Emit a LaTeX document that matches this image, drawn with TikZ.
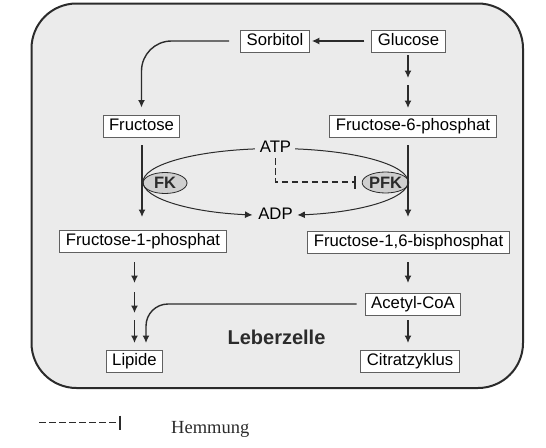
\documentclass[tikz,border=0pt]{standalone}
\usepackage{fontspec}
\setmainfont{Liberation Sans}
\newfontfamily\legendfont{Liberation Serif}
\usetikzlibrary{arrows.meta,calc,shapes.geometric}
\definecolor{cellbg}{HTML}{EBEBEB}
\definecolor{ink}{HTML}{2B2B2B}
\definecolor{boxline}{HTML}{606060}
\definecolor{enzfill}{HTML}{CFCFCF}
\begin{document}
\begin{tikzpicture}[x=1pt,y=-1pt,
  mol/.style={draw=boxline, line width=1pt, fill=white, font=\fontsize{16.7}{19}\selectfont, text height=12pt, text depth=3.5pt, inner xsep=6pt, inner ysep=3.25pt},
  lbl/.style={font=\fontsize{16.7}{19}\selectfont, inner sep=0pt, text height=12pt, text depth=3.5pt},
  enz/.style={ellipse, draw=ink, line width=0.8pt, fill=enzfill, minimum width=44pt, minimum height=21pt, inner sep=0pt, font=\bfseries\fontsize{16.5}{19}\selectfont, text=ink},
  tip/.style={-{Latex[length=7.5pt,width=7pt]}},
  arr/.style={draw=ink, line width=1.4pt, tip},
  ring/.style={draw=ink, line width=1pt},
  inh/.style={draw=ink, line width=1.2pt, dash pattern=on 6.5pt off 3.5pt},
  barline/.style={draw=ink, line width=1.2pt},
]
\useasboundingbox (0,0) rectangle (546,447);
\draw[draw=ink, line width=2pt, fill=cellbg, rounded corners=45pt] (31.5,3.5) rectangle (523,388);

\node[mol] (sorb) at (275,41) {Sorbitol};
\node[mol] (gluc) at (408.5,41) {Glucose};
\node[mol] (fru) at (141.5,126) {Fructose};
\node[mol] (f6p) at (413,126) {Fructose-6-phosphat};
\node[lbl] (atp) at (275.5,148.5) {ATP};
\node[lbl] (adp) at (275.5,215) {ADP};
\node[enz] (fk) at (165,183) {FK};
\node[enz] (pfk) at (385.5,182.5) {PFK};
\node[mol] (f1p) at (143,241) {Fructose-1-phosphat};
\node[mol] (f16) at (408.5,242) {Fructose-1,6-bisphosphat};
\node[mol] (acoa) at (413,304) {Acetyl-CoA};
\node[mol] (lip) at (134.5,361.5) {Lipide};
\node[mol] (cit) at (410,361) {Citratzyklus};
\node[font=\bfseries\fontsize{20}{24}\selectfont, text=ink] (leber) at (276.5,337) {Leberzelle};

% ATP/ADP ring
\coordinate (E) at (275.5,182);
\draw[ring] ($(E)+(99:132.5pt and 33.5pt)$) arc[start angle=99,end angle=180,x radius=132.5pt,y radius=33.5pt];
\draw[ring] ($(E)+(81.5:132.5pt and 33.5pt)$) arc[start angle=81.5,end angle=0,x radius=132.5pt,y radius=33.5pt];
\draw[ring, tip] ($(E)+(180:132.5pt and 33.5pt)$) arc[start angle=180,end angle=260,x radius=132.5pt,y radius=33.5pt];
\draw[ring, tip] ($(E)+(0:132.5pt and 33.5pt)$) arc[start angle=0,end angle=-80.5,x radius=132.5pt,y radius=33.5pt];

% inhibition
\coordinate (inhend) at (355,182);
\draw[inh] ([yshift=-2pt]atp.south) |- (inhend);
\draw[barline] ([yshift=6.5pt]inhend) -- ([yshift=-6.5pt]inhend);

% main arrows
\draw[arr] ([xshift=-7pt]gluc.west) -- ([xshift=2pt]sorb.east);
\draw[arr, rounded corners=30pt] ([xshift=-11pt]sorb.west) -| ([yshift=7pt]fru.north);
\coordinate (g1) at (408,55); \coordinate (g2) at (408,78);
\coordinate (g3) at (408,85); \coordinate (g4) at (408,108);
\draw[arr] (g1) -- (g2);
\draw[arr] (g3) -- (g4);
\coordinate (l1) at (142,145); \coordinate (l2) at (142,217);
\draw[arr] (l1) -- (l2);
\coordinate (v1) at (408,145); \coordinate (v2) at (408,217);
\draw[arr] (v1) -- (v2);
\coordinate (c1) at (134.5,262); \coordinate (c2) at (134.5,283);
\coordinate (c3) at (134.5,292); \coordinate (c4) at (134.5,313);
\coordinate (c5) at (134.5,320); \coordinate (c6) at (134.5,343);
\draw[arr] (c1) -- (c2);
\draw[arr] (c3) -- (c4);
\draw[arr] (c5) -- (c6);
\coordinate (r1) at (408,262); \coordinate (r2) at (408,283);
\coordinate (r3) at (408,320); \coordinate (r4) at (408,343);
\draw[arr] (r1) -- (r2);
\draw[arr] (r3) -- (r4);
\coordinate (lipin) at (146,343);
\draw[arr, rounded corners=22pt] ([xshift=-8pt]acoa.west) -| (lipin);

% legend
\coordinate (lg1) at (39,422.7); \coordinate (lg2) at (120,422.7);
\draw[inh] (lg1) -- (lg2);
\draw[barline] ([yshift=7pt]lg2) -- ([yshift=-7pt]lg2);
\node[font=\legendfont\fontsize{18.5}{22}\selectfont, anchor=base west, inner sep=0pt, text=ink] (hem) at (171,433) {Hemmung};
\end{tikzpicture}
\end{document}
